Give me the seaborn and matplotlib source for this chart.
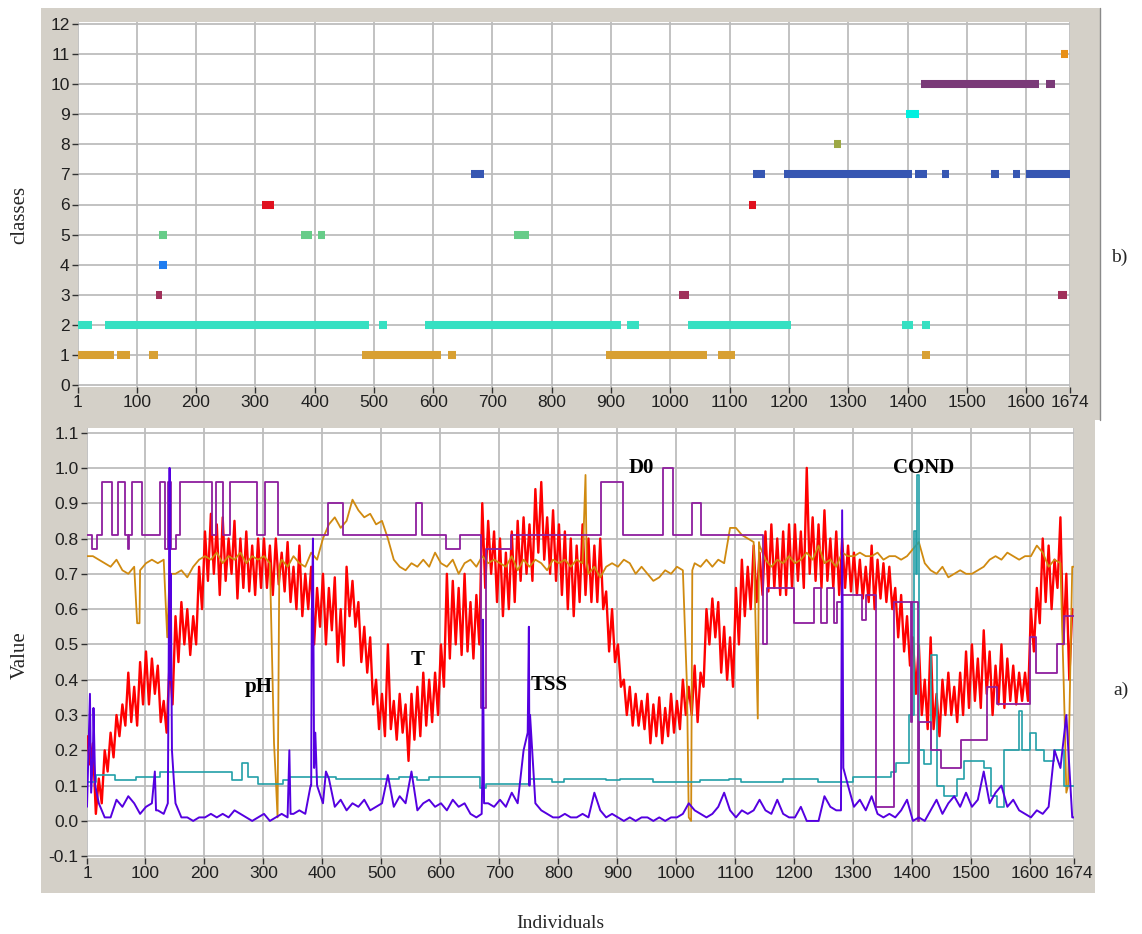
import matplotlib
matplotlib.use('Agg')
import matplotlib.pyplot as plt
import seaborn as sns
import pandas as pd
from matplotlib.patches import Rectangle

# ---------- b) classes: runs of individuals per class ----------
seg_class = [2, 2, 2, 2, 2, 2, 2, 2,
             1, 1, 1, 1, 1, 1, 1, 1,
             3, 3, 3,
             4,
             5, 5, 5, 5,
             6, 6,
             7, 7, 7, 7, 7, 7, 7, 7,
             8,
             9,
             10, 10,
             11]
seg_start = [1, 47, 508, 587, 927, 1029, 1390, 1424,
             1, 66, 120, 480, 625, 891, 1080, 1424,
             133, 1015, 1654,
             137,
             137, 377, 406, 737,
             312, 1133,
             663, 1140, 1192, 1412, 1458, 1541, 1578, 1599,
             1276,
             1397,
             1422, 1633,
             1659]
seg_end = [24, 492, 522, 917, 947, 1204, 1409, 1438,
           62, 88, 136, 613, 638, 1061, 1109, 1438,
           143, 1031, 1669,
           151,
           151, 396, 418, 761,
           332, 1145,
           686, 1160, 1407, 1433, 1470, 1554, 1590, 1674,
           1288,
           1420,
           1621, 1648,
           1671]
class_colors = {1: '#D8A032', 2: '#36E0C2', 3: '#A0305A', 4: '#1E7CF0',
                5: '#66CC88', 6: '#E0101E', 7: '#3656B2', 8: '#9CA844',
                9: '#00F0E0', 10: '#7A3A78', 11: '#E89018'}

# ---------- a) variables ----------
idx = list(range(1, 1675, 10))        # 1, 11, ..., 1671
idx_mid = list(range(6, 1675, 10))    # 6, 16, ..., 1666

# temperature: upper / lower edge of the noisy band
t_hi = [0.24, 0.22, 0.12, 0.20, 0.25, 0.30, 0.33, 0.42, 0.38, 0.45,
        0.48, 0.46, 0.44, 0.34, 0.45, 0.58, 0.62, 0.60, 0.58, 0.72,
        0.82, 0.87, 0.84, 0.86, 0.80, 0.85, 0.80, 0.82, 0.78, 0.80,
        0.80, 0.78, 0.80, 0.76, 0.79, 0.72, 0.78, 0.70, 0.72, 0.66,
        0.70, 0.66, 0.69, 0.60, 0.72, 0.68, 0.62, 0.55, 0.52, 0.40,
        0.36, 0.50, 0.34, 0.36, 0.33, 0.36, 0.38, 0.42, 0.40, 0.42,
        0.50, 0.70, 0.68, 0.66, 0.70, 0.62, 0.64, 0.90, 0.85, 0.82,
        0.80, 0.76, 0.82, 0.85, 0.86, 0.84, 0.94, 0.96, 0.86, 0.88,
        0.84, 0.82, 0.80, 0.78, 0.84, 0.80, 0.78, 0.80, 0.65, 0.60,
        0.50, 0.40, 0.38, 0.36, 0.34, 0.36, 0.33, 0.35, 0.32, 0.36,
        0.34, 0.40, 0.38, 0.44, 0.42, 0.60, 0.63, 0.62, 0.55, 0.52,
        0.66, 0.74, 0.72, 0.78, 0.76, 0.82, 0.84, 0.80, 0.82, 0.84,
        0.84, 0.82, 1.00, 0.86, 0.84, 0.88, 0.80, 0.82, 0.80, 0.78,
        0.76, 0.74, 0.72, 0.78, 0.74, 0.73, 0.72, 0.66, 0.64, 0.58,
        0.52, 0.50, 0.40, 0.52, 0.36, 0.40, 0.42, 0.38, 0.42, 0.48,
        0.50, 0.46, 0.54, 0.48, 0.44, 0.50, 0.46, 0.44, 0.42, 0.42,
        0.60, 0.66, 0.80, 0.78, 0.74, 0.86, 0.70, 0.60]
t_lo = [0.16, 0.02, 0.05, 0.14, 0.18, 0.24, 0.27, 0.28, 0.27, 0.33,
        0.33, 0.36, 0.28, 0.25, 0.33, 0.45, 0.50, 0.47, 0.50, 0.60,
        0.68, 0.70, 0.64, 0.68, 0.70, 0.63, 0.66, 0.65, 0.64, 0.66,
        0.66, 0.64, 0.67, 0.65, 0.62, 0.60, 0.58, 0.60, 0.50, 0.55,
        0.50, 0.54, 0.45, 0.44, 0.58, 0.55, 0.45, 0.42, 0.33, 0.26,
        0.24, 0.26, 0.23, 0.25, 0.17, 0.23, 0.24, 0.27, 0.28, 0.30,
        0.38, 0.46, 0.50, 0.47, 0.48, 0.46, 0.50, 0.66, 0.70, 0.62,
        0.58, 0.60, 0.62, 0.68, 0.70, 0.68, 0.76, 0.74, 0.70, 0.68,
        0.64, 0.60, 0.58, 0.62, 0.64, 0.62, 0.62, 0.60, 0.48, 0.45,
        0.38, 0.30, 0.27, 0.27, 0.26, 0.22, 0.24, 0.22, 0.24, 0.25,
        0.26, 0.30, 0.30, 0.28, 0.38, 0.50, 0.52, 0.42, 0.40, 0.38,
        0.50, 0.58, 0.60, 0.62, 0.64, 0.65, 0.66, 0.64, 0.64, 0.66,
        0.68, 0.66, 0.70, 0.68, 0.66, 0.68, 0.66, 0.64, 0.66, 0.65,
        0.64, 0.63, 0.62, 0.60, 0.63, 0.62, 0.60, 0.52, 0.48, 0.44,
        0.36, 0.30, 0.26, 0.26, 0.24, 0.30, 0.30, 0.28, 0.30, 0.32,
        0.34, 0.32, 0.36, 0.30, 0.33, 0.32, 0.34, 0.33, 0.34, 0.34,
        0.48, 0.56, 0.62, 0.60, 0.66, 0.50, 0.40]

ph = [0.75, 0.75, 0.74, 0.73, 0.72, 0.74, 0.71, 0.70, 0.72, 0.71,
      0.73, 0.74, 0.73, 0.74, 0.70, 0.70, 0.71, 0.69, 0.72, 0.74,
      0.75, 0.74, 0.76, 0.73, 0.75, 0.74, 0.76, 0.73, 0.75, 0.74,
      0.75, 0.73, 0.12, 0.74, 0.72, 0.75, 0.73, 0.72, 0.76, 0.74,
      0.80, 0.84, 0.86, 0.83, 0.85, 0.91, 0.88, 0.86, 0.87, 0.84,
      0.85, 0.80, 0.74, 0.72, 0.71, 0.73, 0.72, 0.74, 0.72, 0.76,
      0.73, 0.72, 0.74, 0.70, 0.73, 0.74, 0.72, 0.75, 0.73, 0.74,
      0.73, 0.72, 0.75, 0.71, 0.74, 0.72, 0.74, 0.73, 0.71, 0.74,
      0.73, 0.74, 0.72, 0.74, 0.73, 0.70, 0.72, 0.69, 0.72, 0.73,
      0.72, 0.74, 0.73, 0.70, 0.72, 0.70, 0.68, 0.69, 0.71, 0.70,
      0.72, 0.71, 0.01, 0.73, 0.72, 0.74, 0.72, 0.74, 0.73, 0.83,
      0.83, 0.81, 0.80, 0.79, 0.78, 0.74, 0.72, 0.74, 0.73, 0.75,
      0.73, 0.74, 0.76, 0.74, 0.78, 0.73, 0.74, 0.72, 0.76, 0.75,
      0.75, 0.76, 0.75, 0.75, 0.76, 0.74, 0.75, 0.75, 0.74, 0.75,
      0.77, 0.79, 0.73, 0.71, 0.70, 0.72, 0.69, 0.70, 0.71, 0.70,
      0.70, 0.71, 0.72, 0.74, 0.75, 0.74, 0.76, 0.75, 0.74, 0.75,
      0.75, 0.78, 0.76, 0.72, 0.74, 0.73, 0.08, 0.72]
ph_extra_x = [86, 90, 137, 318, 324, 327, 846, 848, 1018, 1025, 1027,
              1138, 1140, 1658, 1664, 1674]
ph_extra_v = [0.56, 0.56, 0.52, 0.22, 0.01, 0.72, 0.98, 0.73, 0.38, 0.00, 0.71,
              0.29, 0.79, 0.30, 0.10, 0.72]

tss = [0.04, 0.18, 0.05, 0.01, 0.01, 0.06, 0.04, 0.07, 0.05, 0.02,
       0.04, 0.05, 0.03, 0.02, 0.10, 0.05, 0.01, 0.01, 0.00, 0.01,
       0.01, 0.02, 0.01, 0.02, 0.01, 0.03, 0.02, 0.01, 0.00, 0.01,
       0.02, 0.00, 0.01, 0.02, 0.01, 0.02, 0.03, 0.02, 0.10, 0.10,
       0.05, 0.12, 0.04, 0.06, 0.03, 0.05, 0.04, 0.06, 0.03, 0.04,
       0.05, 0.13, 0.04, 0.07, 0.05, 0.14, 0.03, 0.05, 0.06, 0.04,
       0.05, 0.03, 0.06, 0.04, 0.05, 0.02, 0.01, 0.12, 0.05, 0.04,
       0.06, 0.04, 0.08, 0.05, 0.20, 0.10, 0.05, 0.03, 0.02, 0.01,
       0.01, 0.02, 0.01, 0.01, 0.02, 0.01, 0.08, 0.03, 0.01, 0.02,
       0.01, 0.00, 0.01, 0.00, 0.01, 0.01, 0.00, 0.01, 0.00, 0.01,
       0.01, 0.02, 0.05, 0.03, 0.02, 0.01, 0.02, 0.04, 0.08, 0.03,
       0.01, 0.03, 0.02, 0.03, 0.06, 0.03, 0.02, 0.06, 0.02, 0.01,
       0.01, 0.04, 0.00, 0.00, 0.00, 0.07, 0.04, 0.03, 0.10, 0.10,
       0.04, 0.06, 0.03, 0.07, 0.02, 0.01, 0.02, 0.01, 0.03, 0.06,
       0.00, 0.01, 0.00, 0.03, 0.06, 0.02, 0.05, 0.07, 0.04, 0.08,
       0.04, 0.06, 0.14, 0.05, 0.08, 0.10, 0.04, 0.06, 0.03, 0.02,
       0.01, 0.03, 0.02, 0.04, 0.20, 0.15, 0.30, 0.01]
tss_extra_x = [6, 8, 12, 15, 116, 118, 138, 140, 141, 142, 143, 145, 148,
               344, 346, 380, 382, 384, 386, 388, 406, 670, 672, 674,
               748, 750, 752, 1279, 1281, 1283, 1674]
tss_extra_v = [0.36, 0.08, 0.32, 0.10, 0.14, 0.03, 0.05, 0.60, 1.00, 0.40, 0.70, 0.20, 0.12,
               0.20, 0.02, 0.10, 0.57, 0.80, 0.15, 0.25, 0.14, 0.02, 0.57, 0.05,
               0.25, 0.55, 0.30, 0.03, 0.88, 0.15, 0.01]

# dissolved oxygen (step levels, value holds until next change)
do_x = [1, 10, 18, 27, 43, 54, 65, 70, 73, 77, 94, 125, 133, 139, 144,
        152, 158, 213, 220, 231, 243, 289, 302, 325, 409, 435, 558, 568, 610, 633,
        668, 677, 720, 873, 910, 978, 995, 1027, 1041, 1146, 1154, 1199, 1233, 1245, 1256,
        1267, 1272, 1281, 1315, 1321, 1338, 1369, 1397, 1400, 1409, 1411, 1431, 1448, 1482, 1527,
        1544, 1600, 1609, 1646, 1657, 1674]
do_v = [0.81, 0.77, 0.81, 0.96, 0.81, 0.96, 0.81, 0.77, 0.81, 0.96, 0.81, 0.96, 0.77, 0.96, 0.77,
        0.81, 0.96, 0.81, 0.96, 0.81, 0.96, 0.81, 0.96, 0.81, 0.90, 0.81, 0.90, 0.81, 0.77, 0.81,
        0.32, 0.77, 0.81, 0.96, 0.81, 1.00, 0.81, 0.90, 0.81, 0.50, 0.66, 0.56, 0.66, 0.56, 0.66,
        0.56, 0.62, 0.64, 0.57, 0.64, 0.04, 0.62, 0.28, 0.62, 0.00, 0.28, 0.20, 0.15, 0.23, 0.38,
        0.33, 0.52, 0.42, 0.50, 0.58, 0.58]

# conductivity (step levels)
cond_x = [1, 17, 48, 84, 124, 246, 263, 274, 291, 333, 343, 423, 530, 560, 580,
          667, 678, 751, 790, 810, 880, 905, 960, 1040, 1090, 1110, 1180, 1240, 1300, 1363,
          1372, 1395, 1403, 1406, 1408, 1411, 1420, 1431, 1442, 1454, 1476, 1488, 1521, 1533, 1544,
          1555, 1580, 1586, 1600, 1610, 1623, 1640, 1657, 1674]
cond_v = [0.111, 0.13, 0.115, 0.125, 0.14, 0.115, 0.164, 0.125, 0.105, 0.115, 0.125, 0.12, 0.125, 0.115, 0.125,
          0.093, 0.105, 0.12, 0.11, 0.12, 0.115, 0.12, 0.11, 0.115, 0.12, 0.11, 0.12, 0.11, 0.125, 0.14,
          0.164, 0.30, 0.82, 0.70, 0.98, 0.20, 0.16, 0.47, 0.10, 0.07, 0.12, 0.17, 0.15, 0.07, 0.04,
          0.20, 0.31, 0.20, 0.25, 0.20, 0.17, 0.20, 0.10, 0.10]

x_ticks = [1, 100, 200, 300, 400, 500, 600, 700, 800, 900, 1000, 1100,
           1200, 1300, 1400, 1500, 1600, 1674]

labels = [('pH', 292, 0.378), ('T', 562, 0.456), ('TSS', 784, 0.385),
          ('D0', 940, 1.0), ('COND', 1419, 1.0)]


def merged(xs, vs, extra_x=(), extra_v=()):
    d = dict(zip(xs, vs))
    d.update(dict(zip(extra_x, extra_v)))
    s = pd.Series(d).sort_index()
    return pd.DataFrame({'x': s.index, 'v': s.values})


sns.set_theme(style='white')
plt.rcParams['font.family'] = ['Liberation Sans', 'DejaVu Sans']

W, H = 1142, 934
fig = plt.figure(figsize=(W / 100, H / 100), dpi=100)
frame_col = '#D4D0C8'
fig.patches.append(Rectangle((41 / W, 1 - 420 / H), 1059 / W, 412 / H,
                             transform=fig.transFigure, facecolor=frame_col,
                             edgecolor='none', zorder=-10))
fig.patches.append(Rectangle((41 / W, 1 - 893 / H), 1054 / W, 473 / H,
                             transform=fig.transFigure, facecolor=frame_col,
                             edgecolor='none', zorder=-10))
# thin dark edge on the right of the upper frame
fig.add_artist(plt.Line2D([1100 / W, 1100 / W], [1 - 420 / H, 1 - 8 / H],
                          transform=fig.transFigure, color='#8A8A8A', lw=1.0))

ax_b = fig.add_axes([78 / W, 1 - 387 / H, 992 / W, 365 / H])
ax_a = fig.add_axes([87 / W, 1 - 858 / H, 987 / W, 430 / H])

for ax in (ax_b, ax_a):
    ax.set_facecolor('white')
    for sp in ax.spines.values():
        sp.set_visible(False)
    ax.grid(True, color='#BDBDBD', lw=1.3)
    ax.set_axisbelow(True)
    ax.set_xticks(x_ticks)
    ax.set_xlim(1, 1674)
    ax.tick_params(axis='both', which='major', direction='out', length=4, width=1,
                   color='#303030', labelsize=12.5, labelcolor='#202020', pad=2,
                   bottom=True, left=True)

# ---- panel b ----
segs = pd.DataFrame({'cls': seg_class, 'start': seg_start, 'end': seg_end})
segs['color'] = segs['cls'].map(class_colors)
ax_b.hlines(segs['cls'], segs['start'], segs['end'], colors=segs['color'],
            lw=5.8, capstyle='butt', zorder=3)
ax_b.set_ylim(-0.07, 12.07)
ax_b.set_yticks(range(0, 13))

# ---- panel a ----
t_df = merged(idx, t_hi, idx_mid, t_lo)
ph_df = merged(idx, ph, ph_extra_x, ph_extra_v)
tss_df = merged(idx, tss, tss_extra_x, tss_extra_v)
do_df = pd.DataFrame({'x': do_x, 'v': do_v})
cond_df = pd.DataFrame({'x': cond_x, 'v': cond_v})

sns.lineplot(data=t_df, x='x', y='v', ax=ax_a, color='#FF0000', lw=1.7,
             estimator=None, zorder=3)
sns.lineplot(data=ph_df, x='x', y='v', ax=ax_a, color='#D08A10', lw=1.3,
             estimator=None, zorder=4)
sns.lineplot(data=cond_df, x='x', y='v', ax=ax_a, color='#22A0A8', lw=1.2,
             estimator=None, drawstyle='steps-post', zorder=5)
sns.lineplot(data=do_df, x='x', y='v', ax=ax_a, color='#8E1E9E', lw=1.3,
             estimator=None, drawstyle='steps-post', zorder=6)
sns.lineplot(data=tss_df, x='x', y='v', ax=ax_a, color='#5500E0', lw=1.4,
             estimator=None, zorder=7)

ax_a.set_ylim(-0.105, 1.113)
ax_a.set_yticks([-0.1, 0.0, 0.1, 0.2, 0.3, 0.4, 0.5, 0.6, 0.7, 0.8, 0.9, 1.0, 1.1])
ax_a.set_yticklabels([f'{v:.1f}' for v in ax_a.get_yticks()])

for ax in (ax_b, ax_a):
    ax.set_xlabel('')
    ax.set_ylabel('')

for txt, x, y in labels:
    ax_a.text(x, y, txt, ha='center', va='center', fontsize=15, fontweight='bold',
              family=['Liberation Serif', 'DejaVu Serif'], color='black', zorder=10)

serif = ['Liberation Serif', 'DejaVu Serif']
fig.text(20 / W, 1 - 215 / H, 'classes', rotation=90, ha='center', va='center',
         fontsize=15, family=serif)
fig.text(20 / W, 1 - 655 / H, 'Value', rotation=90, ha='center', va='center',
         fontsize=15, family=serif)
fig.text(560 / W, 1 - 924 / H, 'Individuals', ha='center', va='center',
         fontsize=14, family=serif)
fig.text(1119 / W, 1 - 257 / H, 'b)', ha='center', va='center', fontsize=14, family=serif)
fig.text(1121 / W, 1 - 690 / H, 'a)', ha='center', va='center', fontsize=14, family=serif)

fig.savefig('out.png', dpi=100)
